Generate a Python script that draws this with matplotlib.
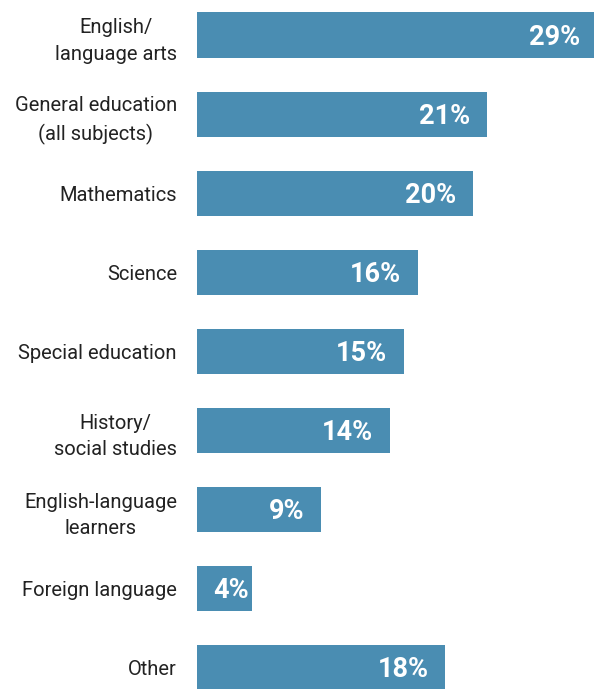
import matplotlib.pyplot as plt

# share of teachers by main subject taught
categories = ['English/\nlanguage arts', 'General education\n(all subjects)', 'Mathematics',
              'Science', 'Special education', 'History/\nsocial studies',
              'English-language\nlearners', 'Foreign language', 'Other']
values = [29, 21, 20, 16, 15, 14, 9, 4, 18]

bar_color = '#4a8db2'

plt.rcParams['font.family'] = ['Roboto', 'DejaVu Sans']

fig = plt.figure(figsize=(5.94, 6.89), dpi=100)
ax = fig.add_axes([197 / 594, 0, 1 - 197 / 594, 1])

y = range(len(values))
ax.barh(y, values, height=0.57, color=bar_color)

for i, v in enumerate(values):
    if v >= 5:
        ax.annotate(f'{v}%', xy=(v, i), xytext=(-17, -2), textcoords='offset pixels',
                    ha='right', va='center', color='white', fontsize=19.5,
                    fontweight='bold', annotation_clip=False)
    else:
        # short bar: start label just inside the left edge
        ax.annotate(f'{v}%', xy=(0, i), xytext=(16, -2), textcoords='offset pixels',
                    ha='left', va='center', color='white', fontsize=19.5,
                    fontweight='bold', annotation_clip=False)

ax.set_xlim(0, 28.77)
ax.set_ylim(8.268, -0.4425)
ax.set_yticks(list(y))
ax.set_yticklabels(categories, fontsize=14.5, color='#222222', linespacing=1.5)
for lab in ax.get_yticklabels():
    lab.set_multialignment('center')
ax.tick_params(axis='y', length=0, pad=14.4)
ax.set_xticks([])
for s in ax.spines.values():
    s.set_visible(False)

fig.savefig('out.png', dpi=100)
